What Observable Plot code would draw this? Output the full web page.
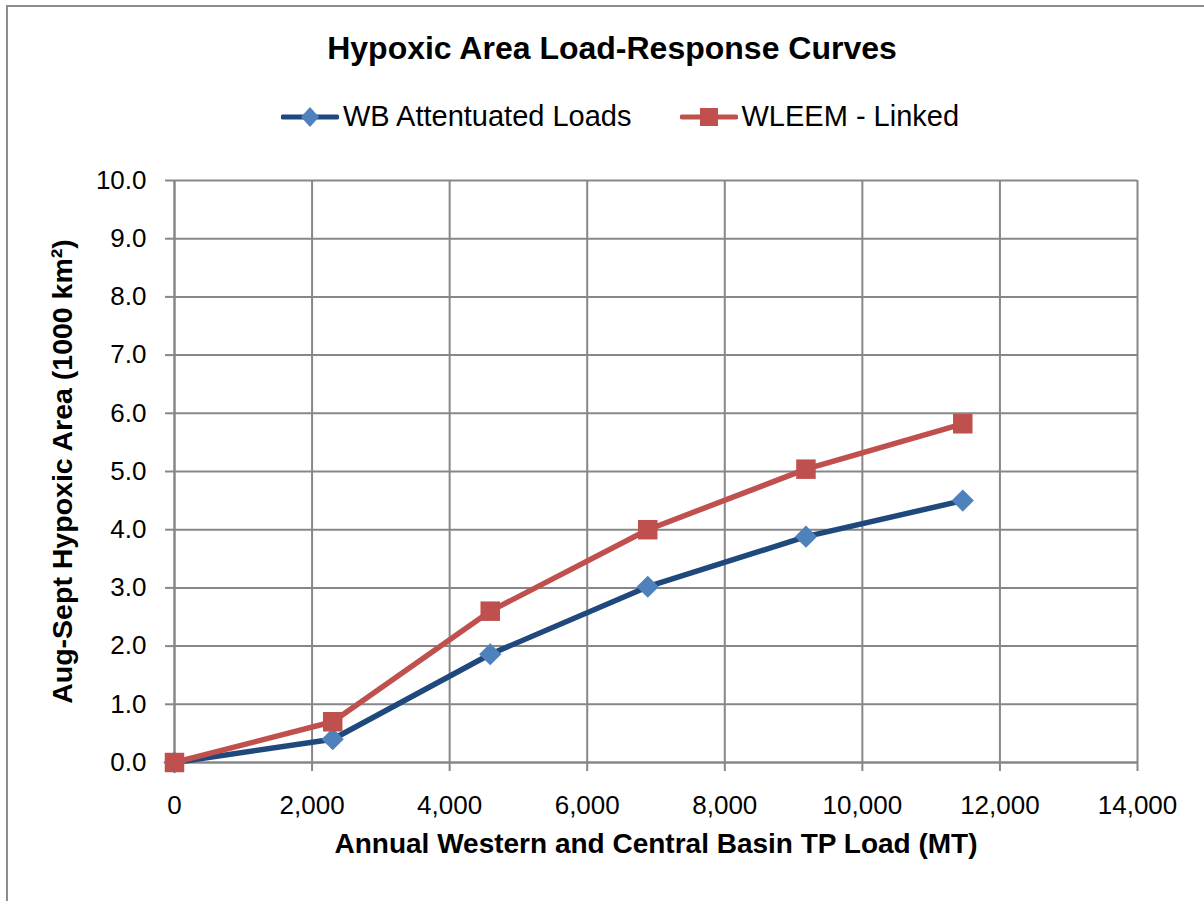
<!DOCTYPE html>
<html>
<head>
<meta charset="utf-8">
<script src="https://cdn.jsdelivr.net/npm/d3@7"></script>
<script src="https://cdn.jsdelivr.net/npm/@observablehq/plot@0.6"></script>
<style>
  html, body { margin: 0; padding: 0; background: #fff; overflow: hidden; }
  body { width: 1204px; height: 901px; position: relative; font-family: "Liberation Sans Narrow", "Liberation Sans", Arial, sans-serif; }
  #frame { position: absolute; left: 6px; top: 5px; width: 1210px; height: 910px; border: 2px solid #8c8c8c; box-sizing: border-box; }
  #title { position: absolute; left: 10px; width: 1204px; top: 30px; text-align: center; font-size: 32px; font-weight: bold; color: #000; }
  #legend { position: absolute; top: 100px; left: 18px; width: 1204px; display: flex; justify-content: center; align-items: center; font-size: 29px; color: #000; }
  #legend .item { display: flex; align-items: center; margin: 0 24px; }
  #legend svg { margin-right: 4px; }
  #chart { position: absolute; left: 0; top: 150px; }
  #chart svg { overflow: visible; }
</style>
</head>
<body>
<div id="frame"></div>
<div id="title">Hypoxic Area Load-Response Curves</div>
<div id="legend"></div>
<div id="chart"></div>
<script>
// Data
const loads = [0, 2300, 4590, 6880, 9180, 11460];
const wbAttenuated = [0.0, 0.40, 1.86, 3.02, 3.88, 4.50];
const wleemLinked = [0.0, 0.70, 2.60, 4.00, 5.04, 5.82];
const seriesNames = ["WB Attentuated Loads", "WLEEM - Linked"];
const xTicks = [0, 2000, 4000, 6000, 8000, 10000, 12000, 14000];
const yTicks = [0, 1, 2, 3, 4, 5, 6, 7, 8, 9, 10];

const lineColors = ["#1F497D", "#C0504D"];
const markerColors = ["#4F81BD", "#C0504D"];

const rowsA = loads.map((x, i) => ({x, y: wbAttenuated[i]}));
const rowsB = loads.map((x, i) => ({x, y: wleemLinked[i]}));

const font = '"Liberation Sans Narrow", "Liberation Sans", Arial, sans-serif';
const grid = "#878787";

const chart = Plot.plot({
  width: 1204,
  height: 751,
  marginLeft: 174,
  marginRight: 67,
  marginTop: 30,
  marginBottom: 139,
  style: { fontFamily: font, fontSize: "24px", color: "#000", background: "transparent", overflow: "visible" },
  x: { domain: [0, 14000], ticks: xTicks, tickFormat: d3.format(","), label: null },
  y: { domain: [0, 10], ticks: yTicks, tickFormat: d3.format(".1f"), label: null },
  marks: [
    Plot.gridX(xTicks, { stroke: grid, strokeOpacity: 1, strokeWidth: 2 }),
    Plot.gridY(yTicks, { stroke: grid, strokeOpacity: 1, strokeWidth: 2 }),
    Plot.ruleX([0], { stroke: grid, strokeWidth: 2 }),
    Plot.ruleY([0], { stroke: grid, strokeWidth: 2 }),
    Plot.axisX(xTicks, { tickSize: 9, tickPadding: 24, stroke: grid, strokeWidth: 2, fontSize: 26, tickFormat: d3.format(","), label: null }),
    Plot.axisY(yTicks, { tickSize: 9, tickPadding: 19, stroke: grid, strokeWidth: 2, fontSize: 26, tickFormat: d3.format(".1f"), label: null }),
    Plot.line(rowsA, { x: "x", y: "y", stroke: lineColors[0], strokeWidth: 5.5 }),
    Plot.dot(rowsA, { x: "x", y: "y", symbol: "diamond2", r: 10, fill: markerColors[0], stroke: null }),
    Plot.line(rowsB, { x: "x", y: "y", stroke: lineColors[1], strokeWidth: 5.5 }),
    Plot.dot(rowsB, { x: "x", y: "y", symbol: "square", r: 11, fill: markerColors[1], stroke: null }),
    Plot.text(["Annual Western and Central Basin TP Load (MT)"], { frameAnchor: "bottom", dy: 90, fontSize: 28, fontWeight: "bold", fill: "#000" }),
    Plot.text(["Aug-Sept Hypoxic Area (1000 km²)"], { frameAnchor: "left", dx: -112, rotate: -90, textAnchor: "middle", fontSize: 28.5, fontWeight: "bold", fill: "#000" })
  ]
});
document.getElementById("chart").appendChild(chart);

// Legend
const legend = document.getElementById("legend");
seriesNames.forEach((name, i) => {
  const item = document.createElement("div");
  item.className = "item";
  const s = d3.create("svg").attr("width", 58).attr("height", 24);
  s.append("line").attr("x1", 2).attr("x2", 56).attr("y1", 12).attr("y2", 12)
    .attr("stroke", lineColors[i]).attr("stroke-width", 5).attr("stroke-linecap", "round");
  if (i === 0) {
    s.append("path").attr("d", "M29,2 L38,12 L29,22 L20,12 Z").attr("fill", markerColors[i]);
  } else {
    s.append("rect").attr("x", 20).attr("y", 3).attr("width", 18).attr("height", 18).attr("fill", markerColors[i]);
  }
  item.appendChild(s.node());
  const t = document.createElement("span");
  t.textContent = name;
  item.appendChild(t);
  legend.appendChild(item);
});
</script>
</body>
</html>
